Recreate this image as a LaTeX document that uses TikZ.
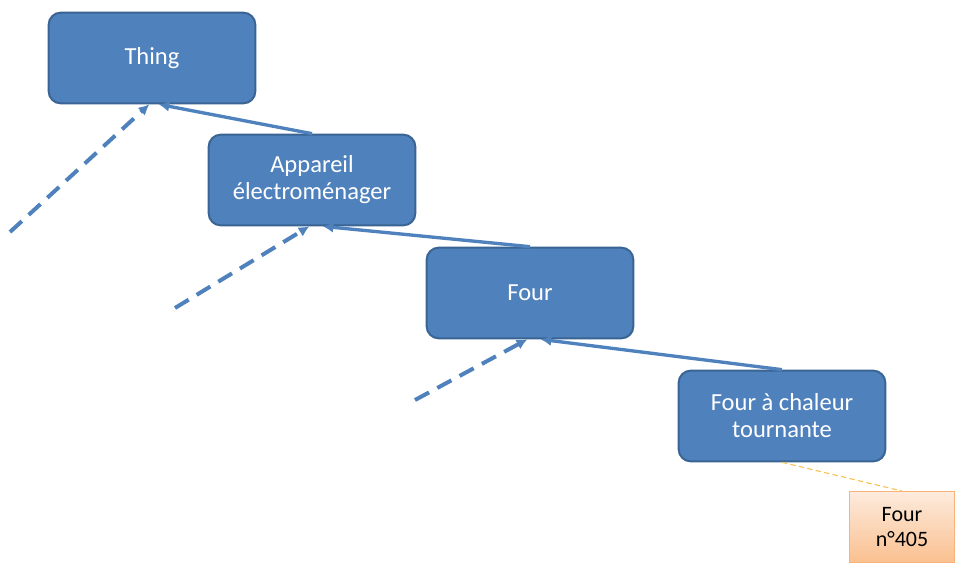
\documentclass[tikz,border=0pt]{standalone}
\usepackage{fontspec}
\setmainfont{Carlito}
\usetikzlibrary{arrows.meta}
\definecolor{boxblue}{HTML}{4F81BD}
\definecolor{boxedge}{HTML}{3A6493}
\definecolor{peachtop}{HTML}{FDEBDD}
\definecolor{peachbot}{HTML}{FAC090}
\definecolor{peachedge}{HTML}{F9B27A}
\definecolor{linkyellow}{HTML}{F9C04A}
\begin{document}
\begin{tikzpicture}[x=0.75pt,y=-0.75pt,
  classbox/.style={draw=boxedge,line width=1.5pt,fill=boxblue,rounded corners=9pt,
    minimum width=155pt,minimum height=68pt,text=white,align=center,
    font=\fontsize{18.4}{20.3}\selectfont},
  instbox/.style={draw=peachedge,line width=0.9pt,top color=peachtop,bottom color=peachbot,
    minimum width=79pt,minimum height=53pt,align=center,
    font=\fontsize{16.5}{18.5}\selectfont},
  isa/.style={draw=boxblue,line width=2.5pt,-{Latex[length=8pt,width=8pt]}},
  more/.style={isa,line width=3pt,dash pattern=on 12pt off 7pt},
  inst/.style={draw=linkyellow,line width=0.8pt,dash pattern=on 4pt off 2.5pt}]
\useasboundingbox (0,0) rectangle (956,565);
% classes
\node[classbox] (thing) at (152,58) {Thing};
\node[classbox] (appareil) at (312,180) {Appareil\\électroménager};
\node[classbox] (four) at (530,293) {Four};
\node[classbox] (chaleur) at (782,416) {Four à chaleur\\tournante};
\node[instbox] (four405) at (902,527) {Four\\n°405};
% loose ends of the other subclasses
\coordinate (d1) at (10,232);
\coordinate (d2) at (175,308);
\coordinate (d3) at (415,400);
% links
\draw[isa] (appareil.north) -- ([xshift=5]thing.south);
\draw[isa] (four.north) -- ([xshift=8]appareil.south);
\draw[isa] (chaleur.north) -- ([xshift=8]four.south);
\foreach \a/\b in {d1/thing, d2/appareil, d3/four}
  \draw[more] (\a) -- ([xshift=-2]\b.south);
\draw[inst] (chaleur.south) -- (four405.north);
\end{tikzpicture}
\end{document}
